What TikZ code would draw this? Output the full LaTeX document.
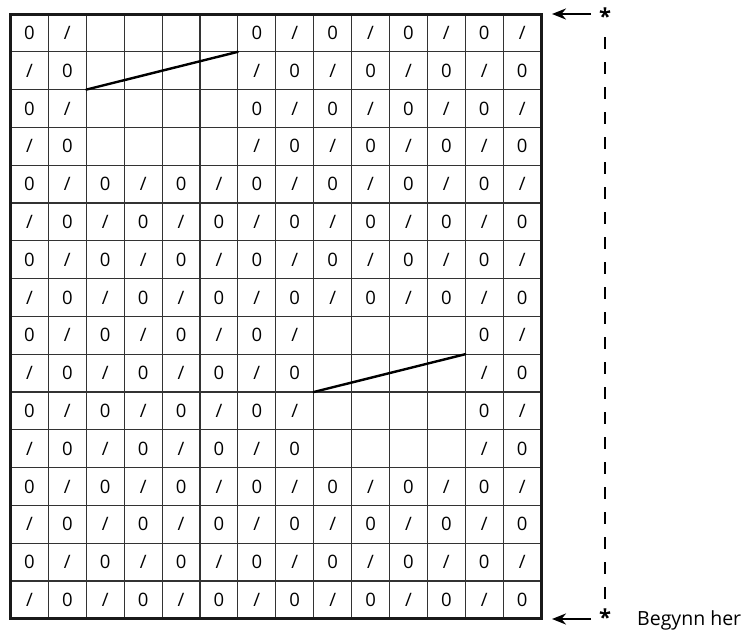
\documentclass[tikz,border=0pt]{standalone}
\usepackage{fontspec}
\setmainfont{Open Sans}
\usetikzlibrary{arrows.meta}
\begin{document}
\begin{tikzpicture}[x=1pt,y=-1pt,
  gridline/.style={line width=1.1pt,draw=black!80},
  frameline/.style={line width=3pt,draw=black!90},
  diag/.style={line width=2.4pt,line cap=round},
  cell/.style={inner sep=0pt,font=\fontsize{18.5}{18.5}\selectfont},
  startarrow/.style={-{Stealth[length=14pt,width=11pt]},line width=2.4pt},
  star/.style={inner sep=0pt,font=\bfseries\fontsize{22}{22}\selectfont},
  dashline/.style={line width=2pt,dash pattern=on 12pt off 13pt}]
\useasboundingbox (0,0) rectangle (750,632);
\def\X{10.5}\def\Y{14}\def\W{37.9}\def\H{37.8}
% grid lines
\foreach \i in {1,...,13}
  \draw[gridline] ({\X+\i*\W},\Y) -- ({\X+\i*\W},{\Y+16*\H});
\foreach \j in {1,...,15}
  \draw[gridline] (\X,{\Y+\j*\H}) -- ({\X+14*\W},{\Y+\j*\H});
\draw[frameline] (\X,\Y) rectangle ({\X+14*\W},{\Y+16*\H});
% cells
\foreach \r in {1,...,16}{
  \foreach \c in {1,...,14}{
    \pgfmathtruncatemacro\e{((\r<5) && (\c>2) && (\c<7)) || ((\r>8) && (\r<13) && (\c>8) && (\c<13)) ? 1 : 0}
    \pgfmathtruncatemacro\p{mod(\r+\c,2)}
    \ifnum\e=0
      \node[cell] (c-\r-\c) at ({\X+(\c-0.5)*\W},{\Y+(\r-0.5)*\H}) {\ifnum\p=0 0\else /\fi};
    \fi
  }
}
% diagonal lines
\coordinate (d1a) at ({\X+2*\W},{\Y+2*\H});
\coordinate (d1b) at ({\X+6*\W},{\Y+1*\H});
\coordinate (d2a) at ({\X+8*\W},{\Y+10*\H});
\coordinate (d2b) at ({\X+12*\W},{\Y+9*\H});
\draw[diag] (d1a) -- (d1b);
\draw[diag] (d2a) -- (d2b);
% side markers
\node[star] (s1) at (605,16) {*};
\node[star] (s2) at (605,617) {*};
\coordinate (a1) at (591,14);
\coordinate (t1) at (552,14);
\coordinate (a2) at (591,619);
\coordinate (t2) at (552,619);
\draw[startarrow] (a1) -- (t1);
\draw[startarrow] (a2) -- (t2);
\coordinate (dtop) at (605,37);
\coordinate (dbot) at (605,600);
\draw[dashline] (dtop) -- (dbot);
\node[anchor=base west,inner sep=0pt,font=\fontsize{19.5}{19.5}\selectfont] (lab) at (637,625) {Begynn her};
\end{tikzpicture}
\end{document}
